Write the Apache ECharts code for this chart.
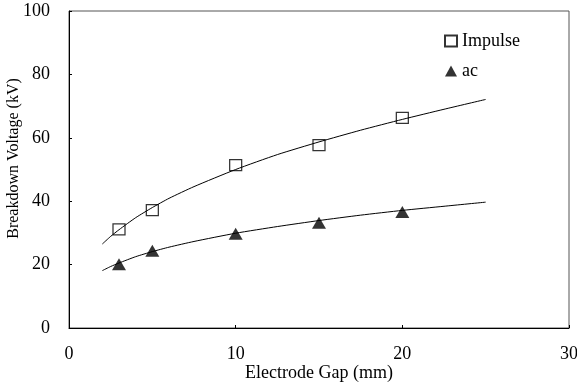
<!DOCTYPE html>
<html>
<head>
<meta charset="utf-8">
<script src="https://cdn.jsdelivr.net/npm/echarts@6/dist/echarts.min.js"></script>
<style>html,body{margin:0;padding:0;background:#fff}#c{width:577px;height:385px}</style>
</head>
<body>
<div id="c"></div>
<script>
// Measured points
var gap = [3, 5, 10, 15, 20];
var impulse = [31.1, 37.2, 51.4, 57.7, 66.3];
var ac = [20.1, 24.4, 29.7, 33.2, 36.6];
// Trend curves
var trendGap = [2, 2.5, 3, 4, 5, 6, 7.5, 10, 12.5, 15, 17.5, 20, 22.5, 25];
var impulseTrend = [26.5, 28.9, 31.0, 34.8, 38.0, 40.9, 44.6, 50.0, 54.7, 58.7, 62.4, 65.8, 69.0, 72.1];
var acTrend = [18.1, 19.4, 20.5, 22.5, 24.1, 25.5, 27.3, 29.9, 32.0, 33.9, 35.6, 37.1, 38.4, 39.7];
var xTicks = [0, 10, 20, 30];
var yTicks = [0, 20, 40, 60, 80, 100];

function pairs(xs, ys) { return xs.map(function (x, i) { return [x, ys[i]]; }); }

var font = 'Liberation Serif';
var chart = echarts.init(document.getElementById('c'), null, {renderer: 'canvas'});
chart.setOption({
  animation: false,
  backgroundColor: '#fff',
  grid: {left: 69, right: 8, top: 11, bottom: 57, show: true, borderColor: '#555', borderWidth: 1,
    containLabel: false, outerBoundsMode: 'none'},
  legend: {
    orient: 'vertical', left: 439, top: 27, itemGap: 12, itemWidth: 12, itemHeight: 11,
    data: ['Impulse', 'ac'],
    textStyle: {fontFamily: font, fontSize: 18, color: '#000'}
  },
  xAxis: {
    type: 'value', min: xTicks[0], max: xTicks[xTicks.length - 1], interval: 10,
    name: 'Electrode Gap (mm)', nameLocation: 'middle', nameGap: 36, nameMoveOverlap: false,
    nameTextStyle: {fontFamily: font, fontSize: 18, color: '#000'},
    axisLine: {lineStyle: {color: '#000', width: 1}},
    axisTick: {show: true, inside: true, length: 3, lineStyle: {color: '#000'}},
    axisLabel: {fontFamily: font, fontSize: 18, color: '#000', margin: 17},
    splitLine: {show: false}
  },
  yAxis: {
    type: 'value', min: yTicks[0], max: yTicks[yTicks.length - 1], interval: 20,
    name: 'Breakdown Voltage (kV)', nameLocation: 'middle', nameGap: 47, nameMoveOverlap: false,
    nameTextStyle: {fontFamily: font, fontSize: 16, color: '#000', padding: [0, 0, 0, 22]},
    axisLine: {lineStyle: {color: '#000', width: 1}},
    axisTick: {show: true, inside: true, length: 3, lineStyle: {color: '#000'}},
    axisLabel: {fontFamily: font, fontSize: 18, color: '#000', margin: 19},
    splitLine: {show: false}
  },
  series: [
    {name: 'ImpulseTrend', type: 'line', data: pairs(trendGap, impulseTrend), smooth: 0.2,
      showSymbol: false, symbol: 'none', lineStyle: {color: '#000', width: 1}, z: 1, silent: true},
    {name: 'acTrend', type: 'line', data: pairs(trendGap, acTrend), smooth: 0.2,
      showSymbol: false, symbol: 'none', lineStyle: {color: '#000', width: 1}, z: 1, silent: true},
    {name: 'Impulse', type: 'scatter', data: pairs(gap, impulse), symbol: 'rect', symbolSize: [12, 11],
      itemStyle: {color: 'rgba(255,255,255,0)', borderColor: '#000', borderWidth: 1.2}, z: 3},
    {name: 'ac', type: 'scatter', data: pairs(gap, ac), symbol: 'triangle', symbolSize: [14, 12],
      itemStyle: {color: '#000'}, z: 3}
  ]
});
</script>
</body>
</html>
